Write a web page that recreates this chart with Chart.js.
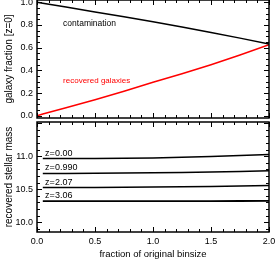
<!DOCTYPE html>
<html lang="en">
<head>
    <meta charset="UTF-8">
    <title>galaxy fraction / recovered stellar mass</title>
    <script src="https://cdn.jsdelivr.net/npm/chart.js"></script>
    <style>
        body { margin: 0; background: #fff; }
        #wrap { position: relative; width: 277px; height: 262px; }
        canvas { position: absolute; left: 0; }
    </style>
</head>
<body>
<div id="wrap">
    <canvas id="topChart" width="277" height="120" style="top:0"></canvas>
    <canvas id="botChart" width="277" height="142" style="top:120px"></canvas>
</div>

<script>
// --- data ---
const fracX = [0.0, 0.05, 0.25, 0.5, 0.75, 1.0, 1.25, 1.5, 1.75, 2.0];
const contamination = [1.0, 0.992, 0.958, 0.915, 0.872, 0.828, 0.782, 0.734, 0.684, 0.632];
const recovered = [0.0, 0.015, 0.07, 0.14, 0.215, 0.295, 0.37, 0.45, 0.535, 0.625];

const massX = [0.05, 0.25, 0.5, 0.75, 1.0, 1.25, 1.5, 1.75, 2.0];
const zLabels = ['z=0.00', 'z=0.990', 'z=2.07', 'z=3.06'];
const massZ0 = [10.965, 10.965, 10.967, 10.97, 10.975, 10.985, 10.995, 11.01, 11.025];
const massZ1 = [10.74, 10.74, 10.742, 10.745, 10.75, 10.755, 10.762, 10.77, 10.78];
const massZ2 = [10.525, 10.525, 10.527, 10.53, 10.533, 10.537, 10.542, 10.548, 10.555];
const massZ3 = [10.32, 10.32, 10.32, 10.32, 10.32, 10.32, 10.32, 10.321, 10.322];

const xTicks = [0.0, 0.5, 1.0, 1.5, 2.0];
const fracTicks = [0.0, 0.2, 0.4, 0.6, 0.8, 1.0];
const massTicks = [10.0, 10.5, 11.0];

const FONT = 'Liberation Sans';

function pts(xs, ys) { return xs.map((x, i) => ({x: x, y: ys[i]})); }
function fixTicks(list) { return scale => { scale.ticks = list.map(v => ({value: v})); }; }

// IDL style frame: box plus inward major/minor ticks on all sides
const idlFrame = {
    id: 'idlFrame',
    afterDraw(chart, args, o) {
        const {ctx, chartArea: a} = chart;
        const sx = chart.scales.x, sy = chart.scales.y;
        ctx.save();
        ctx.strokeStyle = '#000';
        ctx.lineWidth = 1.5;
        ctx.strokeRect(a.left, a.top, a.width, a.height);
        ctx.lineWidth = 1;
        ctx.beginPath();
        const xs = Math.ceil(sx.min / o.xMinor - 1e-6);
        for (let k = xs; k * o.xMinor <= sx.max + 1e-6; k++) {
            const v = k * o.xMinor;
            const major = Math.abs(v / o.xMajor - Math.round(v / o.xMajor)) < 1e-6;
            const len = major ? 5 : 3;
            const px = Math.round(sx.getPixelForValue(v)) + 0.5;
            ctx.moveTo(px, a.bottom); ctx.lineTo(px, a.bottom - len);
            ctx.moveTo(px, a.top); ctx.lineTo(px, a.top + len);
        }
        const ys = Math.ceil(sy.min / o.yMinor - 1e-6);
        for (let k = ys; k * o.yMinor <= sy.max + 1e-6; k++) {
            const v = k * o.yMinor;
            const major = Math.abs(v / o.yMajor - Math.round(v / o.yMajor)) < 1e-6;
            const len = major ? 5 : 3;
            const py = Math.round(sy.getPixelForValue(v)) + 0.5;
            ctx.moveTo(a.left, py); ctx.lineTo(a.left + len, py);
            ctx.moveTo(a.right, py); ctx.lineTo(a.right - len, py);
        }
        ctx.stroke();
        // text labels placed in data coordinates
        (o.notes || []).forEach(n => {
            ctx.fillStyle = n.color;
            ctx.font = n.size + 'px "' + FONT + '"';
            ctx.textAlign = 'left';
            ctx.textBaseline = n.base || 'middle';
            ctx.fillText(n.text, sx.getPixelForValue(n.x), sy.getPixelForValue(n.y) + (n.dy || 0));
        });
        ctx.restore();
    }
};

function yAxisFit(scale) {
    scale.width = 37;
    scale.paddingTop = 0;
    scale.paddingBottom = 0;
}

const lineDs = (data, color, w) => ({
    data: data, borderColor: color, borderWidth: w || 1.5,
    pointRadius: 0, fill: false, tension: 0
});

const noGrid = { display: false, drawTicks: false, tickLength: 0 };

new Chart(document.getElementById('topChart'), {
    type: 'line',
    data: {
        datasets: [
            lineDs(pts(fracX, contamination), '#000000'),
            lineDs(pts(fracX, recovered), '#ff0000')
        ]
    },
    options: {
        responsive: false,
        animation: false,
        events: [],
        layout: { padding: {left: 0, right: 8, top: 0, bottom: 2} },
        plugins: {
            legend: { display: false },
            tooltip: { enabled: false },
            idlFrame: {
                xMinor: 0.1, xMajor: 0.5, yMinor: 0.05, yMajor: 0.2,
                notes: [
                    {text: 'contamination', x: 0.225, y: 0.81, color: '#000000', size: 8.5},
                    {text: 'recovered galaxies', x: 0.225, y: 0.305, color: '#ff0000', size: 8}
                ]
            }
        },
        scales: {
            x: { type: 'linear', min: 0, max: 2, display: false },
            y: {
                type: 'linear', min: -0.02, max: 1.02,
                afterBuildTicks: fixTicks(fracTicks),
                afterFit: yAxisFit,
                grid: noGrid,
                border: { display: false },
                ticks: {
                    padding: 4, color: '#000',
                    font: {family: FONT, size: 9},
                    callback: v => v.toFixed(1)
                },
                title: {
                    display: true, text: 'galaxy fraction [z=0]', color: '#000',
                    font: {family: FONT, size: 10}, padding: {top: 3, bottom: 0}
                }
            }
        }
    },
    plugins: [idlFrame]
});

const massSets = [massZ0, massZ1, massZ2, massZ3];

new Chart(document.getElementById('botChart'), {
    type: 'line',
    data: {
        datasets: massSets.map((m, i) => lineDs(pts(massX, m), '#000000', i === 3 ? 1.8 : 1.5))
    },
    options: {
        responsive: false,
        animation: false,
        events: [],
        layout: { padding: {left: 0, right: 8, top: 2, bottom: 0} },
        plugins: {
            legend: { display: false },
            tooltip: { enabled: false },
            idlFrame: {
                xMinor: 0.1, xMajor: 0.5, yMinor: 0.1, yMajor: 0.5,
                notes: massSets.map((m, i) => ({
                    text: zLabels[i], x: 0.07, y: m[0], dy: -1,
                    base: 'bottom', color: '#000000', size: 9
                }))
            }
        },
        scales: {
            x: {
                type: 'linear', min: 0, max: 2,
                afterBuildTicks: fixTicks(xTicks),
                afterFit: s => { s.height = 30; s.paddingLeft = 0; s.paddingRight = 0; },
                grid: noGrid,
                border: { display: false },
                ticks: {
                    padding: 4, color: '#000', maxRotation: 0,
                    font: {family: FONT, size: 9},
                    callback: v => v.toFixed(1)
                },
                title: {
                    display: true, text: 'fraction of original binsize', color: '#000',
                    font: {family: FONT, size: 9.5}, padding: {top: 0, bottom: 2}
                }
            },
            y: {
                type: 'linear', min: 9.85, max: 11.52,
                afterBuildTicks: fixTicks(massTicks),
                afterFit: yAxisFit,
                grid: noGrid,
                border: { display: false },
                ticks: {
                    padding: 4, color: '#000',
                    font: {family: FONT, size: 9},
                    callback: v => v.toFixed(1)
                },
                title: {
                    display: true, text: 'recovered stellar mass', color: '#000',
                    font: {family: FONT, size: 10}, padding: {top: 3, bottom: 0}
                }
            }
        }
    },
    plugins: [idlFrame]
});
</script>
</body>
</html>
